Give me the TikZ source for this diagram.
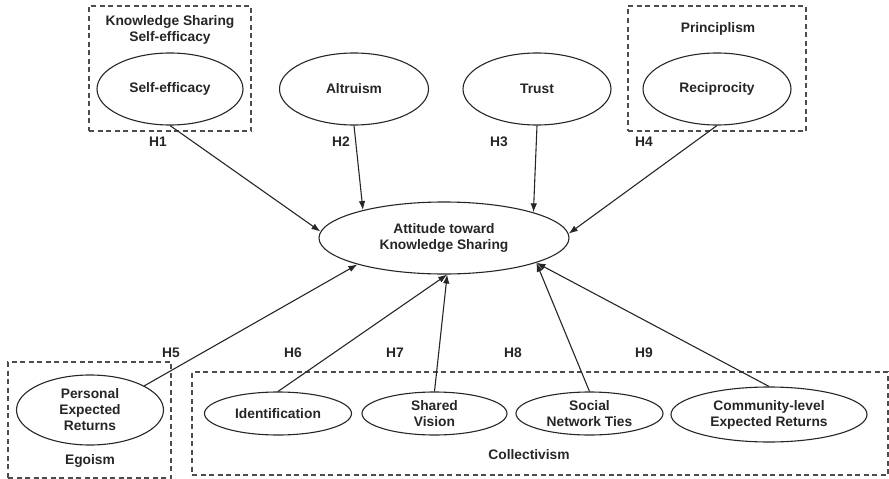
\documentclass[tikz,border=0pt]{standalone}
\usepackage{fontspec}
\setmainfont{Liberation Sans}
\usetikzlibrary{shapes.geometric,arrows.meta}
\begin{document}
\begin{tikzpicture}[x=1pt,y=-1pt,
  every node/.style={font=\fontsize{13.8}{16}\selectfont\bfseries, text=black!85, align=center},
  ell/.style={ellipse, draw=black!85, line width=1.1pt, inner sep=0pt},
  dbox/.style={draw=black!70, line width=1.2pt, dash pattern=on 5pt off 3.5pt, inner sep=0pt},
  arr/.style={draw=black!85, line width=1.1pt, -{Latex[length=9pt,width=6.5pt]}},
  lbl/.style={inner sep=0pt}]
\useasboundingbox (0,0) rectangle (889,479);
% group boxes
\node[dbox, minimum width=162pt, minimum height=125pt] (ksbox) at (170,68.5) {};
\node[dbox, minimum width=178pt, minimum height=125pt] (prbox) at (717,68.5) {};
\node[dbox, minimum width=163pt, minimum height=116pt] (egbox) at (89.5,420) {};
\node[dbox, minimum width=696pt, minimum height=103pt] (cobox) at (540,423.5) {};
% group titles
\node[lbl] (kstitle) at (170,30) {Knowledge Sharing\\Self-efficacy};
\node[lbl] (prtitle) at (718,29) {Principlism};
\node[lbl] (egtitle) at (90,461) {Egoism};
\node[lbl] (cotitle) at (529,455) {Collectivism};
% constructs
\node[ell, minimum width=146pt, minimum height=72pt] (self) at (170,89) {Self-efficacy};
\node[ell, minimum width=149pt, minimum height=72pt] (alt) at (354,89) {Altruism};
\node[ell, minimum width=148pt, minimum height=72pt] (trust) at (537,89) {Trust};
\node[ell, minimum width=148pt, minimum height=72pt] (recip) at (717,89) {Reciprocity};
\node[ell, minimum width=250pt, minimum height=72pt] (att) at (444,238) {Attitude toward\\Knowledge Sharing};
\node[ell, minimum width=147pt, minimum height=70pt] (per) at (90,410) {Personal\\Expected\\Returns};
\node[ell, minimum width=147pt, minimum height=43pt] (ident) at (278,413.5) {Identification};
\node[ell, minimum width=145pt, minimum height=43pt] (shared) at (434.5,413.5) {Shared\\Vision};
\node[ell, minimum width=147pt, minimum height=43pt] (social) at (589.5,413.5) {Social\\Network Ties};
\node[ell, minimum width=196pt, minimum height=55pt] (comm) at (769,414.5) {Community-level\\Expected Returns};
% hypothesis labels
\node[lbl] (h1) at (158,142) {H1};
\node[lbl] (h2) at (341,142) {H2};
\node[lbl] (h3) at (499,142) {H3};
\node[lbl] (h4) at (644,142) {H4};
\node[lbl] (h5) at (171,353) {H5};
\node[lbl] (h6) at (293,353) {H6};
\node[lbl] (h7) at (395,353) {H7};
\node[lbl] (h8) at (513,353) {H8};
\node[lbl] (h9) at (644,353) {H9};
% paths
\draw[arr] (self.south) -- (att.177);
\draw[arr] (alt.south) -- (att.161);
\draw[arr] (trust.south) -- (att.16);
\draw[arr] (recip.south) -- (att.2);
\draw[arr] (per.24) -- (att.197);
\draw[arr] (ident.north) -- (att.-85);
\draw[arr] (shared.north) -- (att.-85);
\draw[arr] (social.north) -- (att.-15);
\draw[arr] (comm.north) -- (att.-15);
\end{tikzpicture}
\end{document}
